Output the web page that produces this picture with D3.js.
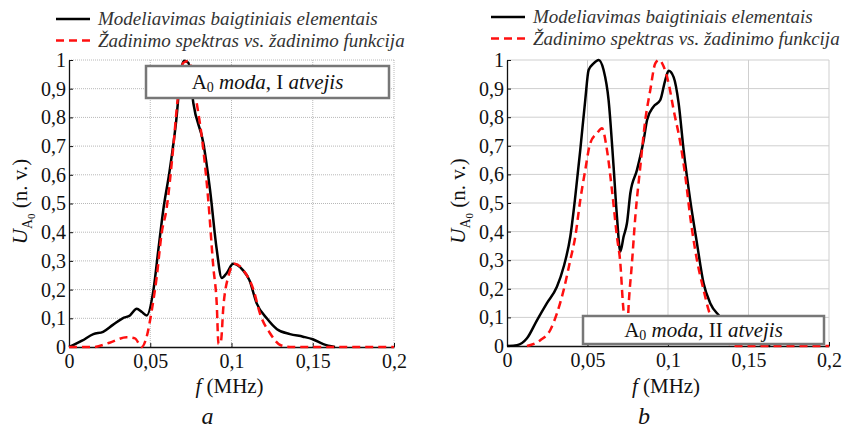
<!DOCTYPE html>
<html>
<head>
<meta charset="utf-8">
<script src="https://cdn.jsdelivr.net/npm/d3@7"></script>
<style>
  body { margin: 0; background: #fff; }
</style>
</head>
<body>
<script>
// ---- duomenys (nuskaityti nuo paveikslo) ----
const xTicks = [0, 0.05, 0.1, 0.15, 0.2];
const yTicks = [0, 0.1, 0.2, 0.3, 0.4, 0.5, 0.6, 0.7, 0.8, 0.9, 1];

const legendNames = ["Modeliavimas baigtiniais elementais", "Žadinimo spektras vs. žadinimo funkcija"];

// a) I atvejis
const fA = [0, 0.008, 0.015, 0.021, 0.027, 0.033, 0.0375, 0.0417, 0.0447, 0.0478, 0.052, 0.055, 0.058, 0.062, 0.066, 0.069, 0.0708, 0.0735, 0.0765, 0.0827, 0.0868, 0.0909, 0.094, 0.097, 0.101, 0.107, 0.111, 0.1155, 0.1217, 0.128, 0.136, 0.144, 0.150, 0.1565, 0.1637];
const modelA = [0, 0.022, 0.045, 0.053, 0.077, 0.1, 0.11, 0.133, 0.123, 0.11, 0.2, 0.34, 0.477, 0.617, 0.79, 0.965, 0.997, 0.99, 0.85, 0.71, 0.547, 0.34, 0.24, 0.257, 0.29, 0.268, 0.233, 0.152, 0.1, 0.062, 0.045, 0.036, 0.027, 0.01, 0];

const fA2 = [0, 0.015, 0.025, 0.0355, 0.0406, 0.0447, 0.0478, 0.051, 0.054, 0.057, 0.060, 0.064, 0.067, 0.0703, 0.0734, 0.0786, 0.0827, 0.0857, 0.0888, 0.0909, 0.092, 0.0935, 0.095, 0.098, 0.102, 0.108, 0.1135, 0.1175, 0.1237, 0.13, 0.136, 0.2];
const spektrasA = [0, 0, 0.015, 0.034, 0.03, 0, 0.036, 0.13, 0.245, 0.396, 0.48, 0.686, 0.87, 0.99, 0.997, 0.85, 0.686, 0.512, 0.28, 0.152, 0.01, 0.02, 0.14, 0.245, 0.29, 0.262, 0.2, 0.117, 0.048, 0.007, 0, 0];

// b) II atvejis
const fB = [0, 0.0062, 0.0124, 0.0186, 0.0248, 0.031, 0.0352, 0.0393, 0.0424, 0.0455, 0.0486, 0.0507, 0.0538, 0.0569, 0.06, 0.0631, 0.0662, 0.0683, 0.0704, 0.0724, 0.0745, 0.0766, 0.0807, 0.0849, 0.087, 0.091, 0.0952, 0.0983, 0.1004, 0.1035, 0.1066, 0.1097, 0.1138, 0.118, 0.1221, 0.1263, 0.1314, 0.138, 0.145, 0.155, 0.1635];
const modelB = [0, 0.003, 0.027, 0.09, 0.15, 0.207, 0.277, 0.382, 0.522, 0.685, 0.86, 0.965, 0.988, 1.0, 0.965, 0.86, 0.627, 0.452, 0.33, 0.382, 0.429, 0.534, 0.615, 0.72, 0.79, 0.837, 0.86, 0.93, 0.962, 0.94, 0.849, 0.685, 0.51, 0.359, 0.219, 0.149, 0.108, 0.07, 0.035, 0.01, 0];

const fB2 = [0.0124, 0.0207, 0.0269, 0.031, 0.0352, 0.0393, 0.0424, 0.0455, 0.0486, 0.0517, 0.0559, 0.059, 0.0621, 0.0652, 0.0683, 0.0704, 0.072, 0.0735, 0.0745, 0.0755, 0.0776, 0.0797, 0.0828, 0.0859, 0.089, 0.0921, 0.0945, 0.0973, 0.1004, 0.1035, 0.1077, 0.1108, 0.1138, 0.118, 0.1221, 0.1252, 0.132, 0.1425, 0.2];
const spektrasB = [0, 0.02, 0.056, 0.114, 0.196, 0.3, 0.382, 0.51, 0.615, 0.709, 0.744, 0.761, 0.685, 0.545, 0.382, 0.289, 0.149, 0.06, 0.02, 0.137, 0.289, 0.452, 0.627, 0.79, 0.895, 0.988, 1.0, 0.977, 0.918, 0.825, 0.709, 0.592, 0.452, 0.3, 0.196, 0.126, 0.04, 0, 0];

const zip = (xs, ys) => xs.map((x, i) => ({ f: x, v: ys[i] }));

const SERIF = '"Liberation Serif"';

const svg = d3.select("body").append("svg")
    .attr("width", 843)
    .attr("height", 429);

const fmt = d => String(+d.toFixed(2)).replace(".", ",");

function drawPanel(cfg) {
    const x = d3.scaleLinear().domain([0, 0.2]).range([cfg.left, cfg.right]);
    const y = d3.scaleLinear().domain([0, 1]).range([cfg.bottom, cfg.top]);
    const g = svg.append("g");

    // tinklelis
    g.append("g").selectAll("line.gx")
        .data(xTicks.slice(1))
        .join("line")
        .attr("x1", d => x(d)).attr("x2", d => x(d))
        .attr("y1", y(0)).attr("y2", y(1))
        .attr("stroke", cfg.gridColor)
        .attr("stroke-dasharray", cfg.gridDash);
    g.append("g").selectAll("line.gy")
        .data(yTicks.slice(1))
        .join("line")
        .attr("x1", x(0)).attr("x2", x(0.2))
        .attr("y1", d => y(d)).attr("y2", d => y(d))
        .attr("stroke", cfg.gridColor)
        .attr("stroke-dasharray", cfg.gridDash);

    // ašys
    const ax = g.append("g")
        .attr("transform", `translate(0,${cfg.bottom})`)
        .call(d3.axisBottom(x).tickValues(xTicks).tickFormat(fmt).tickSizeInner(-4).tickSizeOuter(0).tickPadding(7));
    const ay = g.append("g")
        .attr("transform", `translate(${cfg.left},0)`)
        .call(d3.axisLeft(y).tickValues(yTicks).tickFormat(fmt).tickSizeInner(-4).tickSizeOuter(0).tickPadding(3));
    [ax, ay].forEach(a => {
        a.select(".domain").attr("stroke", "#111").attr("stroke-width", 1.3);
        a.selectAll(".tick line").attr("stroke", "#111");
        a.selectAll("text").style("font-family", SERIF).style("font-size", "20px").attr("fill", "#111");
    });

    // kreivės
    const line = d3.line().x(d => x(d.f)).y(d => y(d.v)).curve(d3.curveMonotoneX);
    g.append("path")
        .datum(cfg.model)
        .attr("d", line)
        .attr("fill", "none")
        .attr("stroke", "#000")
        .attr("stroke-width", 2.5);
    g.append("path")
        .datum(cfg.spektras)
        .attr("d", line)
        .attr("fill", "none")
        .attr("stroke", "#ff1010")
        .attr("stroke-width", 2.5)
        .attr("stroke-dasharray", "8,5");

    // anotacijos langelis
    const b = cfg.box;
    g.append("rect")
        .attr("x", b.x).attr("y", b.y).attr("width", b.w).attr("height", b.h)
        .attr("fill", "#fff")
        .attr("stroke", "#777")
        .attr("stroke-width", 2.5);
    const bt = g.append("text")
        .attr("x", b.x + b.w / 2)
        .attr("y", b.y + b.h / 2 + 7)
        .attr("text-anchor", "middle")
        .style("font-family", SERIF)
        .style("font-size", "21px")
        .attr("fill", "#111");
    bt.append("tspan").text("A");
    bt.append("tspan").style("font-size", "14px").attr("dy", 3).text("0");
    bt.append("tspan").attr("dy", -3).text(" ");
    bt.append("tspan").style("font-style", "italic").text("moda");
    bt.append("tspan").text(", " + cfg.caseNo + " ");
    bt.append("tspan").style("font-style", "italic").text("atvejis");

    // legenda
    const lg = g.append("g");
    legendNames.forEach((name, i) => {
        const ly = cfg.legendY + i * 21.5;
        lg.append("line")
            .attr("x1", cfg.legendX).attr("x2", cfg.legendX + 34)
            .attr("y1", ly).attr("y2", ly)
            .attr("stroke", i === 0 ? "#000" : "#ff1010")
            .attr("stroke-width", 2.5)
            .attr("stroke-dasharray", i === 0 ? null : "8,5");
        lg.append("text")
            .attr("x", cfg.legendX + 42)
            .attr("y", ly + 6)
            .style("font-family", SERIF)
            .style("font-size", "19px")
            .style("font-style", "italic")
            .attr("fill", "#333")
            .text(name);
    });

    // ašių pavadinimai
    const xl = g.append("text")
        .attr("x", (cfg.left + cfg.right) / 2 - 2)
        .attr("y", 393)
        .attr("text-anchor", "middle")
        .style("font-family", SERIF)
        .style("font-size", "21px")
        .attr("fill", "#111");
    xl.append("tspan").style("font-style", "italic").text("f");
    xl.append("tspan").text(" (MHz)");

    const yl = g.append("text")
        .attr("transform", `translate(${cfg.left - 42},${(cfg.top + cfg.bottom) / 2 - 2}) rotate(-90)`)
        .attr("text-anchor", "middle")
        .style("font-family", SERIF)
        .style("font-size", "21px")
        .attr("fill", "#111");
    yl.append("tspan").style("font-style", "italic").text("U");
    yl.append("tspan").style("font-size", "14px").attr("dy", 5).text("A");
    yl.append("tspan").style("font-size", "11px").attr("dy", 3).text("0");
    yl.append("tspan").attr("dy", -8).text(" (n. v.)");

    g.append("text")
        .attr("x", (cfg.left + cfg.right) / 2 - 24)
        .attr("y", 424)
        .attr("text-anchor", "middle")
        .style("font-family", SERIF)
        .style("font-size", "24px")
        .style("font-style", "italic")
        .attr("fill", "#111")
        .text(cfg.letter);
}

drawPanel({
    left: 69, right: 394, top: 60, bottom: 347,
    gridColor: "#b8b8b8", gridDash: "1,1",
    model: zip(fA, modelA), spektras: zip(fA2, spektrasA),
    box: { x: 146, y: 66, w: 243, h: 32 }, caseNo: "I",
    legendX: 56, legendY: 19, letter: "a"
});

drawPanel({
    left: 507, right: 829, top: 60, bottom: 346,
    gridColor: "#cfcfcf", gridDash: null,
    model: zip(fB, modelB), spektras: zip(fB2, spektrasB),
    box: { x: 583, y: 316, w: 241, h: 28 }, caseNo: "II",
    legendX: 491, legendY: 17, letter: "b"
});
</script>
</body>
</html>
